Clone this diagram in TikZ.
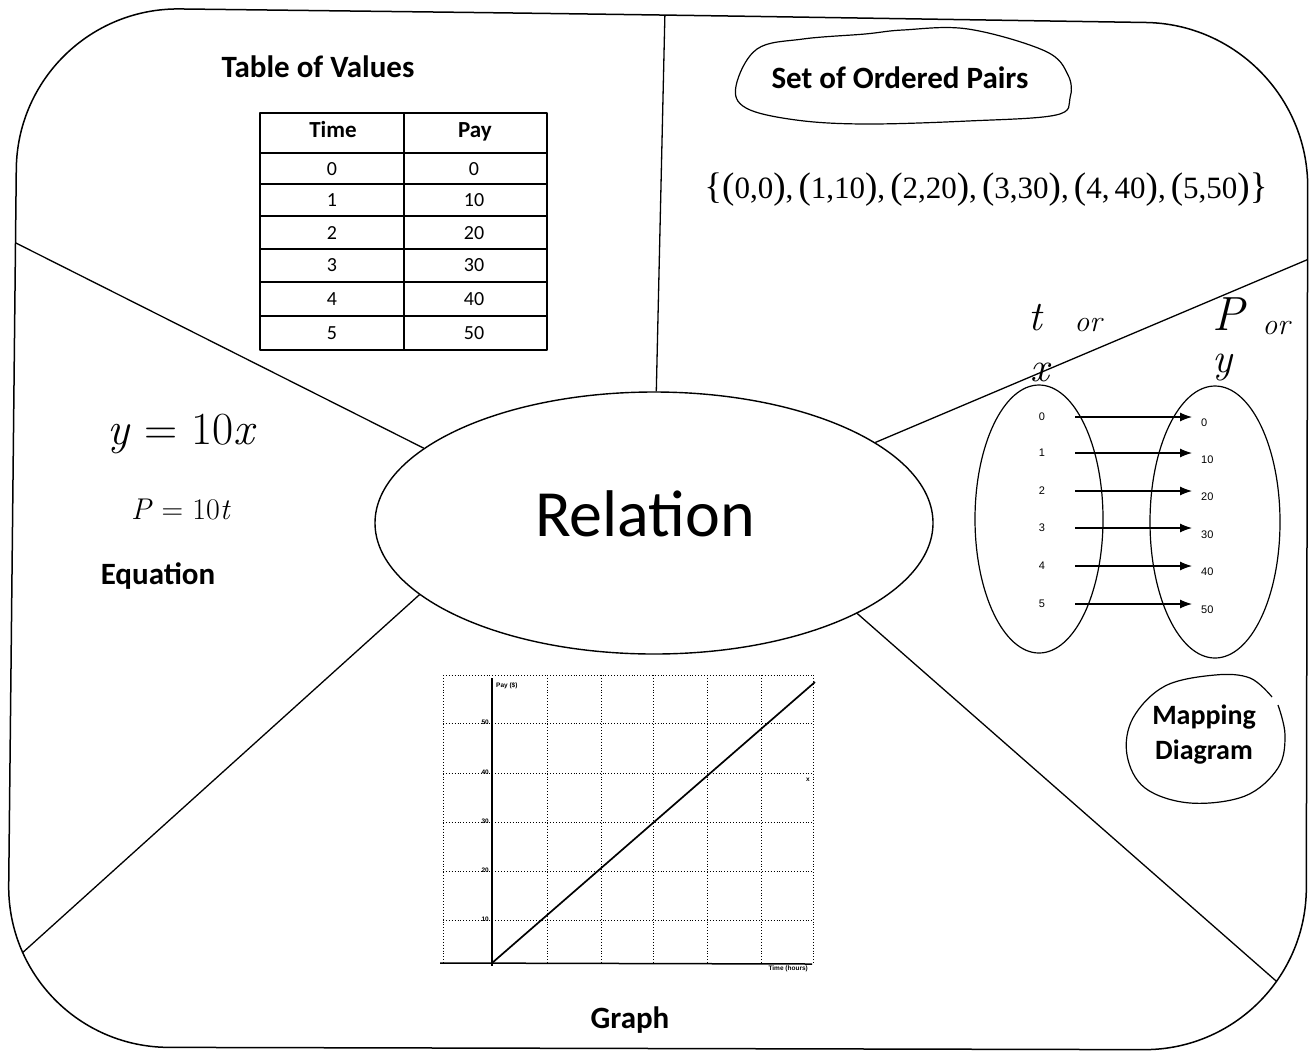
\documentclass[tikz,border=0pt]{standalone}
\usepackage{fontspec}
\newfontfamily\calib{Carlito}
\newfontfamily\serifF{Liberation Serif}
\newfontfamily\arialF{Liberation Sans}
\usetikzlibrary{shapes.geometric,arrows.meta}
\newcommand\bigp[1]{{\fontsize{37}{37}\selectfont #1}}
\begin{document}
\begin{tikzpicture}[x=1pt,y=-1pt,line join=round,
  outerframe/.style={line width=1.5pt},
  divider/.style={line width=1.3pt},
  handline/.style={line width=1.2pt},
  cellnum/.style={font=\calib\fontsize{20}{20}\selectfont,inner sep=0pt},
  cellhead/.style={font=\calib\bfseries\fontsize{23}{23}\selectfont,inner sep=0pt},
  caption/.style={font=\calib\bfseries\fontsize{31}{31}\selectfont,inner sep=0pt},
  mapnum/.style={font=\arialF\fontsize{11}{11}\selectfont,inner sep=1pt},
  maparrow/.style={line width=1.1pt,-{Latex[length=12pt,width=9pt]}},
  griddots/.style={line width=0.9pt,dotted},
  graphlbl/.style={font=\arialF\bfseries\fontsize{6.5}{6.5}\selectfont,inner sep=0pt},
  handtext/.style={font=\itshape\fontsize{42}{42}\selectfont,inner sep=0pt},
  handor/.style={font=\itshape\fontsize{30}{30}\selectfont,inner sep=0pt}
]
\useasboundingbox (0,0) rectangle (1316,1061);

% outer rounded frame
\draw[outerframe,rounded corners=162pt] (600,14) -- (1308,25) -- (1306,1050) -- (7,1047) -- (18,7) -- cycle;

% central ellipse
\node[draw,ellipse,line width=1.4pt,minimum width=558pt,minimum height=262pt,inner sep=0pt] (rel) at (654,523) {};
\node[font=\calib\fontsize{66}{66}\selectfont,inner sep=0pt] (reltext) at (645,514) {Relation};

% dividers (clipped to frame)
\coordinate (topEnd) at (665,10);
\coordinate (ulEnd) at (0,235);
\coordinate (urEnd) at (1316,256);
\coordinate (llEnd) at (0,973);
\coordinate (lrEnd) at (1316,1016);
\begin{scope}
\clip[rounded corners=162pt] (600,14) -- (1308,25) -- (1306,1050) -- (7,1047) -- (18,7) -- cycle;
\draw[divider] (rel.89) -- (topEnd);
\draw[divider] (rel.162) -- (ulEnd);
\draw[divider] (rel.20) -- (urEnd);
\draw[divider] (rel.197) -- (llEnd);
\draw[divider] (rel.336) -- (lrEnd);
\end{scope}

% ---------- Table of values ----------
\node[caption] (tabtitle) at (318,67) {Table of Values};
\draw[line width=1.5pt] (260,113) rectangle (547,350);
\draw[line width=1.2pt] (404,113) -- (404,350);
\draw[line width=2.6pt] (260,153) -- (547,153);
\foreach \yy in {184,216,249,282,316}{\draw[line width=1.2pt] (260,\yy) -- (547,\yy);}
\node[cellhead] (hTime) at (333,130) {Time};
\node[cellhead] (hPay) at (475,132) {Pay};
\foreach \i/\yy/\pv in {0/169/0,1/200/10,2/233/20,3/265/30,4/299/40,5/333/50}{
  \node[cellnum] (t\i) at (332,\yy) {\i};
  \node[cellnum] (p\i) at (474,\yy) {\pv};
}

% ---------- Set of ordered pairs ----------
\draw[handline] plot[smooth cycle,tension=0.6] coordinates {(736,86) (757,49) (803,39) (865,34) (903,30) (968,29) (1045,51) (1068,75) (1070,98) (1056,115) (968,121) (865,124) (796,120) (746,108)};
\node[caption] (sopTitle) at (900,78) {Set of Ordered Pairs};
\node[font=\serifF\fontsize{31}{31}\selectfont,inner sep=0pt] (pairs) at (986,190)
 {\bigp{\{}\bigp{(}0,0\bigp{)},\,\bigp{(}1,10\bigp{)},\,\bigp{(}2,20\bigp{)},\,\bigp{(}3,30\bigp{)},\,\bigp{(}4,\,40\bigp{)},\,\bigp{(}5,50\bigp{)}\bigp{\}}};

% ---------- Equation ----------
\node[font=\fontsize{46}{46}\selectfont,inner sep=0pt] (eqxy) at (182,434) {\textit{y} = 10\textit{x}};
\node[font=\fontsize{30}{30}\selectfont,inner sep=0pt] (eqpt) at (181,509) {\textit{P} = 10\textit{t}};
\node[caption] (eqTitle) at (158,576) {Equation};

% ---------- Mapping diagram ----------
\node[draw,ellipse,line width=1.2pt,minimum width=128pt,minimum height=268pt,inner sep=0pt] (setX) at (1039,519) {};
\node[draw,ellipse,line width=1.2pt,minimum width=130pt,minimum height=272pt,inner sep=0pt] (setY) at (1215,522) {};
\node[handtext] (tLab) at (1035,318) {t};
\node[handor] (or1) at (1088,325) {or};
\node[handtext] (xLab) at (1040,372) {x};
\node[handtext,font=\itshape\fontsize{48}{48}\selectfont] (PLab) at (1228,314) {P};
\node[handor] (or2) at (1276,328) {or};
\node[handtext] (yLab) at (1222,368) {y};
\foreach \i/\ly/\ry/\pv in {0/417/423/0,1/453/460/10,2/491/497/20,3/528/535/30,4/566/572/40,5/604/610/50}{
  \node[mapnum] (L\i) at (1042,\ly) {\i};
  \node[mapnum,anchor=west] (R\i) at (1200,\ry) {\pv};
  \draw[maparrow,shorten >=8pt] ([xshift=33pt]L\i.center) -- (L\i.center -| R\i.west);
}
\draw[handline] plot[smooth,tension=0.6] coordinates {(1272,697) (1250,678) (1215,675) (1165,686) (1133,718) (1127,755) (1145,788) (1190,803) (1245,796) (1278,768) (1285,735) (1278,705)};
\node[font=\calib\bfseries\fontsize{28}{35}\selectfont,align=center,inner sep=0pt] (mapTitle) at (1204,735) {Mapping\\Diagram};

% ---------- Graph ----------
\foreach \xx in {443,547,601,653,707,761,813}{\draw[griddots] (\xx,675) -- (\xx,963);}
\foreach \yy in {675,723,773,822,871,920}{\draw[griddots] (443,\yy) -- (813,\yy);}
\draw[line width=1.5pt] (492,678) -- (492,966);
\draw[line width=1.5pt] (440,963) -- (812,964);
\coordinate (gO) at (492,963);
\coordinate (gEnd) at (815,682);
\draw[line width=1.7pt] (gO) -- (gEnd);
\node[graphlbl,anchor=west] (payAx) at (496,686) {Pay (\$)};
\foreach \yy/\v in {722/50,772/40,821/30,870/20,919/10}{\node[graphlbl,anchor=east] (tick\v) at (489,\yy) {\v};}
\node[graphlbl,anchor=east] (timeAx) at (808,969) {Time (hours)};
\node[graphlbl] (xMark) at (808,780) {x};
\node[caption] (graphTitle) at (630,1020) {Graph};
\end{tikzpicture}
\end{document}
